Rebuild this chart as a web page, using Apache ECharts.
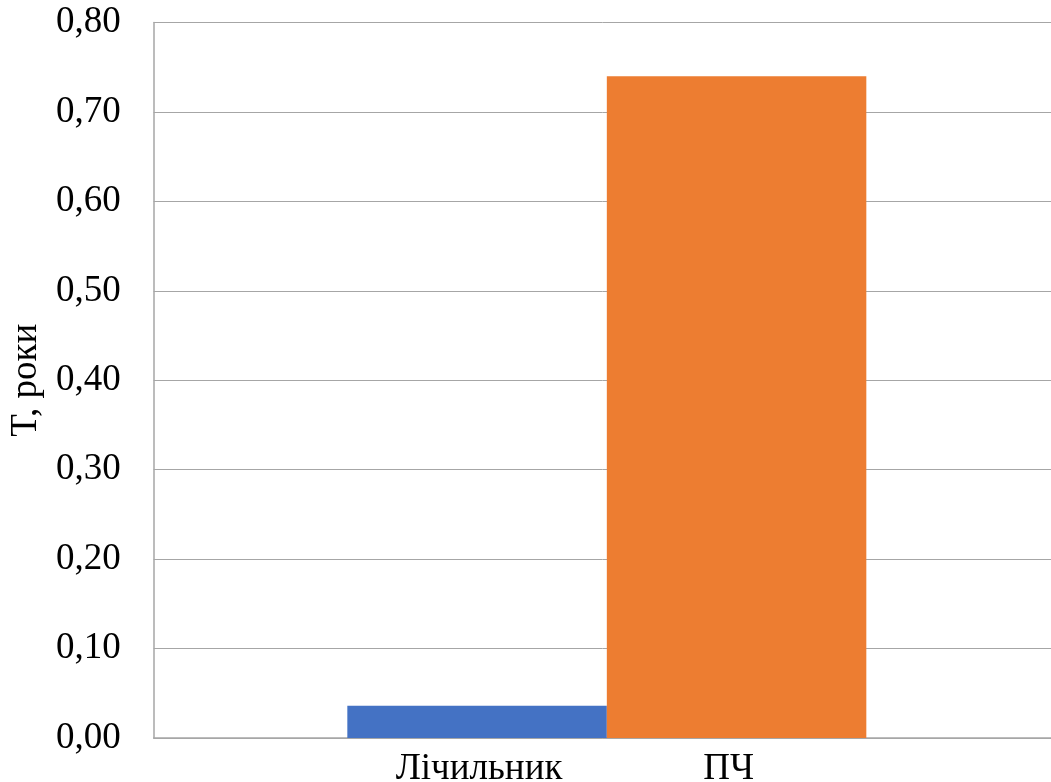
<!DOCTYPE html>
<html>
<head>
<meta charset="utf-8">
<script src="https://cdn.jsdelivr.net/npm/echarts@6/dist/echarts.min.js"></script>
<style>
html,body{margin:0;padding:0;background:#fff;}
#chart{width:1051px;height:782px;}
</style>
</head>
<body>
<div id="chart"></div>
<script>
const categories = [''];
const seriesNames = ['Лічильник', 'ПЧ'];
const counterValues = [0.036];
const pchValues = [0.74];
const yTicks = [0, 0.1, 0.2, 0.3, 0.4, 0.5, 0.6, 0.7, 0.8];
const yAxisName = 'T, роки';

const font = '"Liberation Serif", "Times New Roman", serif';
const chart = echarts.init(document.getElementById('chart'));
chart.setOption({
  animation: false,
  textStyle: { fontFamily: font },
  grid: { left: 153, right: 0, top: 22.5, bottom: 44, containLabel: false },
  xAxis: {
    type: 'category',
    data: categories,
    axisLine: { lineStyle: { color: '#a6a6a6', width: 1.5 } },
    axisTick: { show: false },
    axisLabel: { show: false }
  },
  yAxis: {
    type: 'value',
    min: yTicks[0],
    max: yTicks[yTicks.length - 1],
    interval: 0.1,
    name: yAxisName,
    nameLocation: 'middle',
    nameGap: 101,
    nameTextStyle: { fontFamily: font, fontSize: 37, color: '#000' },
    axisLine: { show: true, lineStyle: { color: '#a6a6a6', width: 1.5 } },
    axisTick: { show: false },
    splitLine: { lineStyle: { color: '#a6a6a6', width: 1 } },
    axisLabel: {
      fontFamily: font, fontSize: 37, color: '#000', margin: 33,
      formatter: v => v.toFixed(2).replace('.', ',')
    }
  },
  series: [
    {
      name: 'spacer', type: 'bar', data: [],
      barWidth: 9, barGap: '0%', silent: true
    },
    {
      name: seriesNames[0], type: 'bar', data: counterValues,
      barWidth: 259.5, barGap: '0%',
      itemStyle: { color: '#4472C4' },
      label: {
        show: true, position: 'bottom', distance: 13, offset: [2, 0],
        formatter: '{a}', fontFamily: font, fontSize: 37, color: '#000'
      }
    },
    {
      name: seriesNames[1], type: 'bar', data: pchValues,
      barWidth: 259.5, barGap: '0%',
      itemStyle: { color: '#ED7D31' },
      label: {
        show: true, position: 'bottom', distance: 13, offset: [-8, 0],
        formatter: '{a}', fontFamily: font, fontSize: 37, color: '#000'
      }
    }
  ]
});
</script>
</body>
</html>
